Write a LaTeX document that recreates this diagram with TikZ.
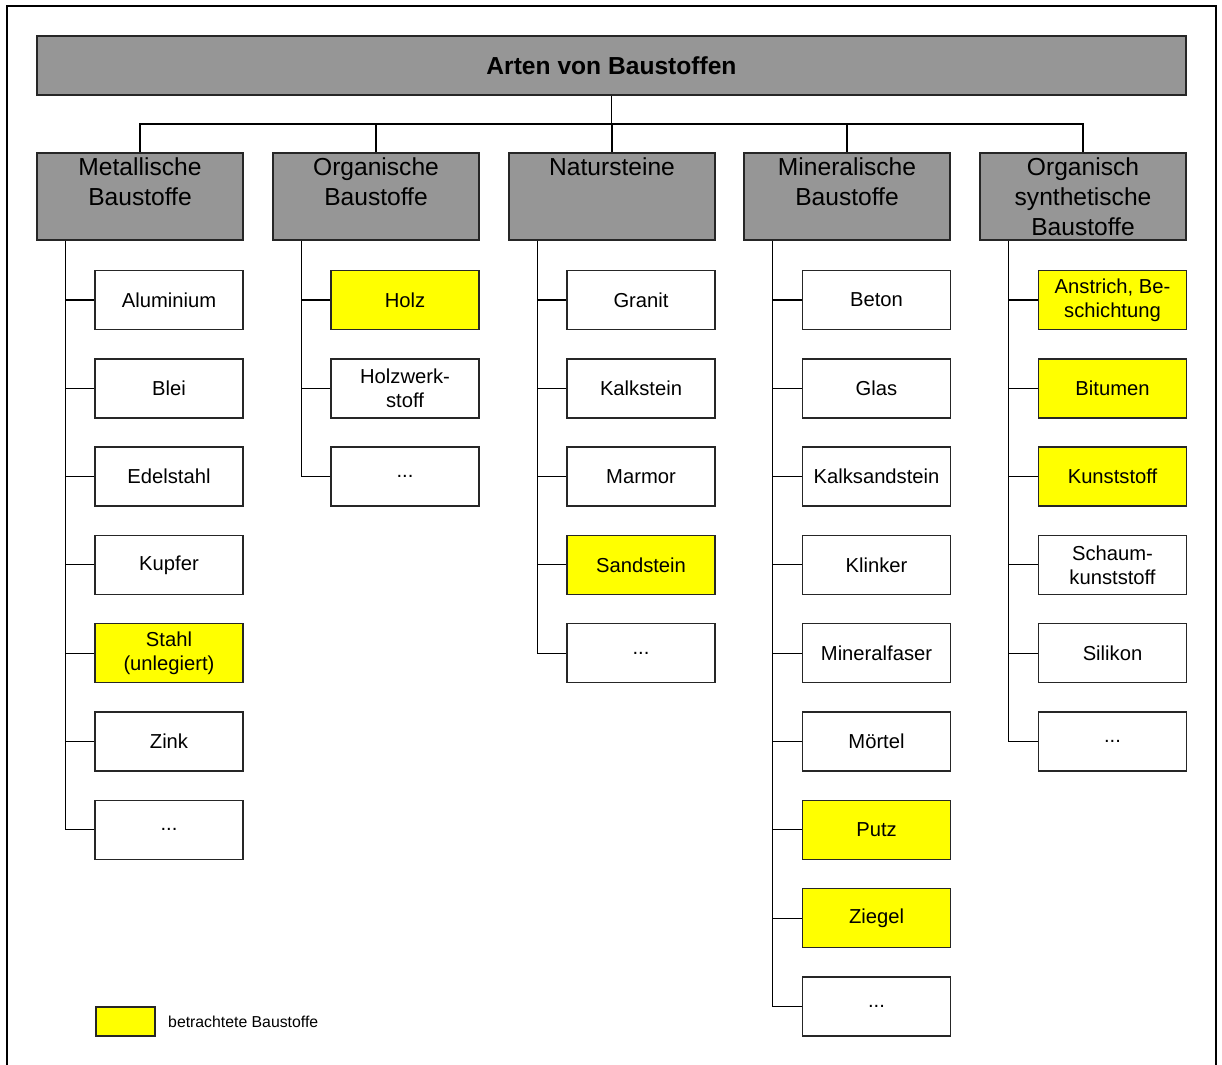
\documentclass[tikz,border=0pt]{standalone}
\usepackage{fontspec}
\setmainfont{Liberation Sans}
\usetikzlibrary{positioning}
\definecolor{boxgray}{RGB}{150,150,150}
\definecolor{markyellow}{RGB}{255,255,0}

\begin{document}
\begin{tikzpicture}[
    x=0.02cm, y=-0.02cm,
    head/.style={draw=black!85, line width=0.8pt, fill=boxgray, minimum width=22.98cm, minimum height=1.18cm, inner sep=0pt, font=\fontsize{14}{17}\selectfont\bfseries},
    group/.style={draw=black!85, line width=0.8pt, fill=boxgray, minimum width=4.12cm, minimum height=1.74cm, inner sep=0pt, align=center, font=\fontsize{14}{17}\selectfont},
    item/.style={draw=black!85, line width=0.8pt, fill=white, minimum width=2.96cm, minimum height=1.18cm, inner sep=0pt, align=center, font=\fontsize{11.5}{13.6}\selectfont},
    chosen/.style={item, fill=markyellow},
    link/.style={line width=0.6pt}
]
    \useasboundingbox (0,0) rectangle (1222,1064);

    % Frame
    \draw[line width=0.6pt] (7,1070) -- (7,6) -- (1216,6) -- (1216,1070);

    % Title
    \node[head] (root) at (611.5,65.5) {Arten von Baustoffen};
    \coordinate (bus) at (611.5,124);

    % Groups
    \node[group] (met) at (140,196.5) {Metallische\\Baustoffe\\~};
    \node[group] (org) at (376,196.5) {Organische\\Baustoffe\\~};
    \node[group] (nat) at (612,196.5) {Natursteine\\~\\~};
    \node[group] (min) at (847,196.5) {Mineralische\\Baustoffe\\~};
    \node[group] (syn) at (1083,196.5) {Organisch\\synthetische\\Baustoffe};

    \draw[link] (root.south) -- (bus);
    \draw[link] (bus) -| (met.north);
    \draw[link] (bus) -| (org.north);
    \draw[link] (bus) -| (nat.north);
    \draw[link] (bus) -| (min.north);
    \draw[link] (bus) -| (syn.north);

    % Trunk starts below each group
    \coordinate (mettop) at ([xshift=0.58cm]met.south west);
    \coordinate (orgtop) at ([xshift=0.58cm]org.south west);
    \coordinate (nattop) at ([xshift=0.58cm]nat.south west);
    \coordinate (mintop) at ([xshift=0.58cm]min.south west);
    \coordinate (syntop) at ([xshift=0.58cm]syn.south west);

    % Metallische Baustoffe
    \node[item] (met1) at (169,300) {Aluminium};
    \node[item] (met2) at (169,388.3) {Blei};
    \node[item] (met3) at (169,476.6) {Edelstahl};
    \node[item] (met4) at (169,564.9) {Kupfer};
    \node[chosen] (met5) at (169,653.2) {Stahl\\(unlegiert)};
    \node[item] (met6) at (169,741.5) {Zink};
    \node[item] (met7) at (169,829.8) {...};
    \draw[link] (mettop) |- (met7.west);
    \foreach \i in {1,...,6}
        \draw[link] (mettop |- met\i.west) -- (met\i.west);

    % Organische Baustoffe
    \node[chosen] (org1) at (405,300) {Holz};
    \node[item] (org2) at (405,388.3) {Holzwerk-\\stoff};
    \node[item] (org3) at (405,476.6) {...};
    \draw[link] (orgtop) |- (org3.west);
    \foreach \i in {1,2}
        \draw[link] (orgtop |- org\i.west) -- (org\i.west);

    % Natursteine
    \node[item] (nat1) at (641,300) {Granit};
    \node[item] (nat2) at (641,388.3) {Kalkstein};
    \node[item] (nat3) at (641,476.6) {Marmor};
    \node[chosen] (nat4) at (641,564.9) {Sandstein};
    \node[item] (nat5) at (641,653.2) {...};
    \draw[link] (nattop) |- (nat5.west);
    \foreach \i in {1,...,4}
        \draw[link] (nattop |- nat\i.west) -- (nat\i.west);

    % Mineralische Baustoffe
    \node[item] (min1) at (876.5,300) {Beton};
    \node[item] (min2) at (876.5,388.3) {Glas};
    \node[item] (min3) at (876.5,476.6) {Kalksandstein};
    \node[item] (min4) at (876.5,564.9) {Klinker};
    \node[item] (min5) at (876.5,653.2) {Mineralfaser};
    \node[item] (min6) at (876.5,741.5) {Mörtel};
    \node[chosen] (min7) at (876.5,829.8) {Putz};
    \node[chosen] (min8) at (876.5,918.1) {Ziegel};
    \node[item] (min9) at (876.5,1006.4) {...};
    \draw[link] (mintop) |- (min9.west);
    \foreach \i in {1,...,8}
        \draw[link] (mintop |- min\i.west) -- (min\i.west);

    % Organisch synthetische Baustoffe
    \node[chosen] (syn1) at (1112.5,300) {Anstrich, Be-\\schichtung};
    \node[chosen] (syn2) at (1112.5,388.3) {Bitumen};
    \node[chosen] (syn3) at (1112.5,476.6) {Kunststoff};
    \node[item] (syn4) at (1112.5,564.9) {Schaum-\\kunststoff};
    \node[item] (syn5) at (1112.5,653.2) {Silikon};
    \node[item] (syn6) at (1112.5,741.5) {...};
    \draw[link] (syntop) |- (syn6.west);
    \foreach \i in {1,...,5}
        \draw[link] (syntop |- syn\i.west) -- (syn\i.west);

    % Legend
    \node[chosen, minimum width=1.18cm, minimum height=0.58cm] (key) at (125.5,1021.5) {};
    \node[anchor=west, font=\fontsize{9}{11}\selectfont] (keytext) at (162,1021.5) {betrachtete Baustoffe};
\end{tikzpicture}
\end{document}
